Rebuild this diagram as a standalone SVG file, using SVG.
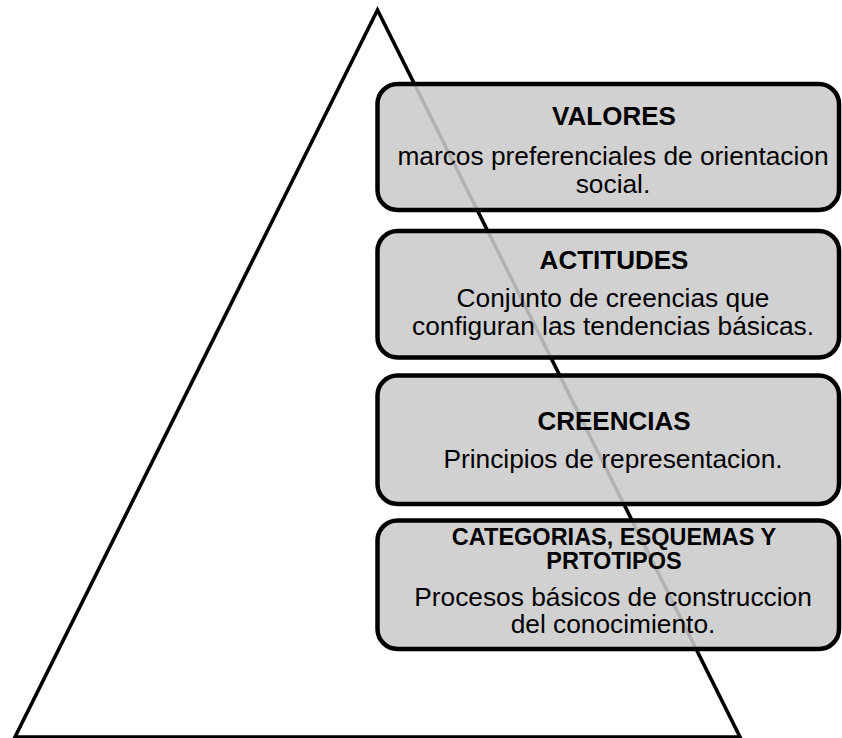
<svg xmlns="http://www.w3.org/2000/svg" width="842" height="738" viewBox="0 0 842 738">
<style>
.box{fill:#cbcbcb;fill-opacity:0.88;stroke:#000;stroke-width:4.5}
.t{font-family:"Liberation Sans",Arial,sans-serif;font-weight:bold;font-size:26px;fill:#000;text-anchor:middle}
.t2{font-family:"Liberation Sans",Arial,sans-serif;font-weight:bold;font-size:23.5px;fill:#000;text-anchor:middle}
.b{font-family:"Liberation Sans",Arial,sans-serif;font-size:26.3px;fill:#000;text-anchor:middle}
</style>
<rect width="842" height="738" fill="#fff"/>
<g id="connectors">
<polygon id="triangle" points="377.5,10 740,737 15,737" fill="none" stroke="#000" stroke-width="3.6" stroke-linejoin="miter"/>
</g>
<g id="valores">
<rect class="box" x="377.5" y="84" width="461.5" height="126" rx="20" ry="20"/>
<text class="t" x="614" y="124.5">VALORES</text>
<text class="b" x="613" y="165">marcos preferenciales de orientacion</text>
<text class="b" x="613" y="192.5">social.</text>
</g>
<g id="actitudes">
<rect class="box" x="377.5" y="231" width="461.5" height="126.5" rx="20" ry="20"/>
<text class="t" x="614" y="268.5">ACTITUDES</text>
<text class="b" x="613" y="307">Conjunto de creencias que</text>
<text class="b" x="613" y="335">configuran las tendencias básicas.</text>
</g>
<g id="creencias">
<rect class="box" x="377.5" y="375.5" width="461.5" height="128.5" rx="20" ry="20"/>
<text class="t" x="614" y="429.5">CREENCIAS</text>
<text class="b" x="613" y="467.5">Principios de representacion.</text>
</g>
<g id="categorias">
<rect class="box" x="377.5" y="520.5" width="461.5" height="128.5" rx="20" ry="20"/>
<text class="t2" x="614" y="544.5">CATEGORIAS, ESQUEMAS Y</text>
<text class="t2" x="614" y="569">PRTOTIPOS</text>
<text class="b" x="613" y="605.5">Procesos básicos de construccion</text>
<text class="b" x="613" y="633">del conocimiento.</text>
</g>
</svg>
